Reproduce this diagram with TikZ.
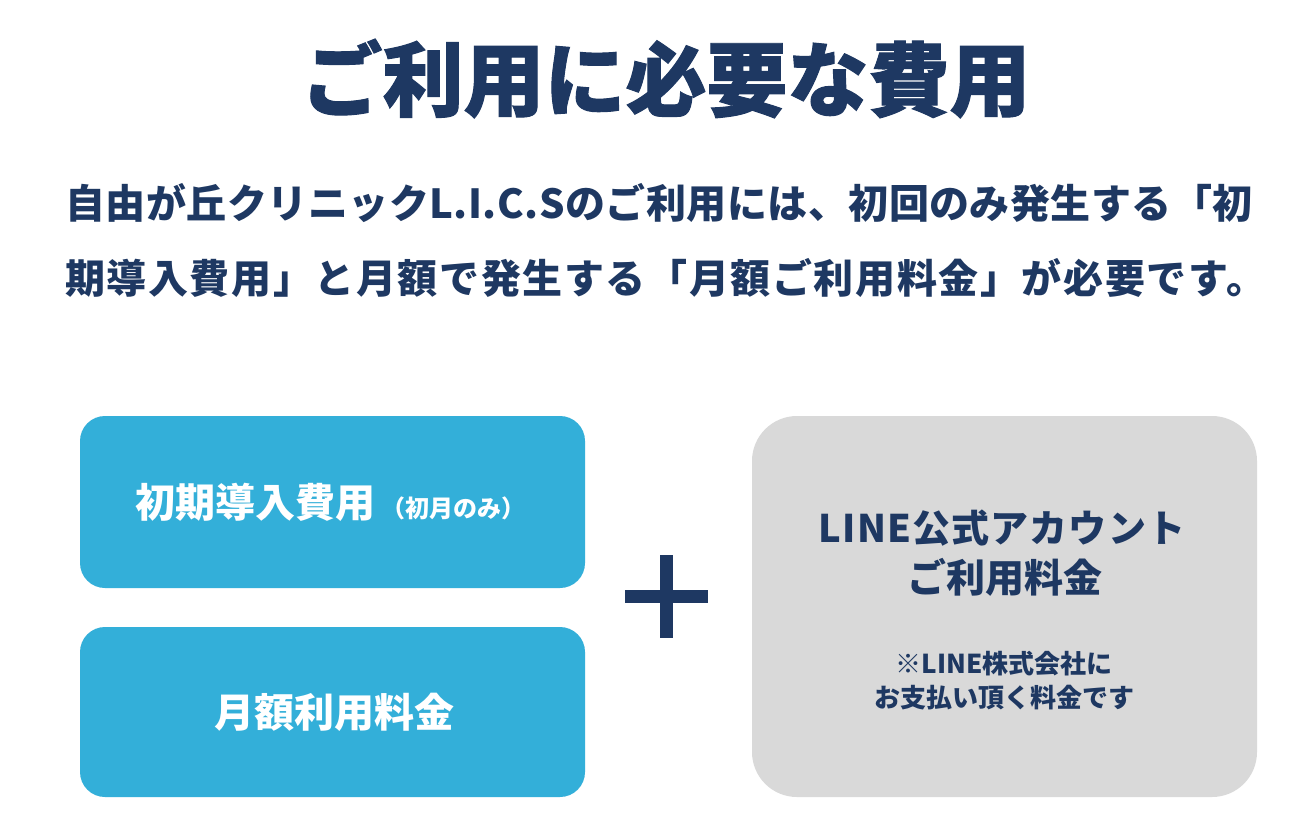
\documentclass[tikz,border=0pt]{standalone}
\usepackage{fontspec}
\setmainfont{Noto Sans CJK JP}
\definecolor{navy}{HTML}{1E3862}
\definecolor{skyblue}{HTML}{33AFD9}
\definecolor{lightgray}{HTML}{D9D9D9}
\tikzset{
  bluebox/.style={fill=skyblue, draw=none, rounded corners=25pt, minimum width=505pt, minimum height=172pt, inner sep=0pt},
  graybox/.style={fill=lightgray, draw=none, rounded corners=45pt, minimum width=505pt, minimum height=381pt, inner sep=0pt},
  txt/.style={inner sep=0pt, anchor=base, font=\bfseries},
}
\begin{document}
\begin{tikzpicture}[x=1pt,y=-1pt]
\useasboundingbox[fill=white] (0,0) rectangle (1301,839);
% title
\node[txt, text=navy, font=\bfseries\fontsize{81}{81}\selectfont\addfontfeature{FakeBold=1.2}] (title) at (666,110) {ご利用に必要な費用};
% subtitle
\node[txt, anchor=base west, text=navy, font=\bfseries\fontsize{40}{40}\selectfont\addfontfeature{LetterSpace=1.2}] (sub1) at (65,218) {自由が丘クリニックL.I.C.Sのご利用には、初回のみ発生する「初};
\node[txt, anchor=base west, text=navy, font=\bfseries\fontsize{40}{40}\selectfont\addfontfeature{LetterSpace=4}] (sub2) at (65,293) {期導入費用」と月額で発生する「月額ご利用料金」が必要です。};
% boxes
\node[bluebox] (initial) at (332.5,502) {};
\node[bluebox, minimum height=170pt] (monthly) at (332.5,712) {};
\node[graybox] (line) at (1004.5,606.5) {};
% box texts
\node[txt, anchor=base west, text=white, font=\bfseries\fontsize{40}{40}\selectfont] (t1) at (135,517) {初期導入費用\hspace{6pt}{\fontsize{24}{24}\selectfont（初月のみ）}};
\node[txt, text=white, font=\bfseries\fontsize{40}{40}\selectfont] (t2) at (334,727) {月額利用料金};
\node[txt, text=navy, font=\bfseries\fontsize{38}{38}\selectfont\addfontfeature{LetterSpace=3}] (g1) at (1002,542) {LINE公式アカウント};
\node[txt, text=navy, font=\bfseries\fontsize{39}{39}\selectfont] (g2) at (1005,592) {ご利用料金};
\node[txt, text=navy, font=\bfseries\fontsize{26}{26}\selectfont] (n1) at (1004,673) {※LINE株式会社に};
\node[txt, text=navy, font=\bfseries\fontsize{26}{26}\selectfont] (n2) at (1004,707) {お支払い頂く料金です};
% plus
\fill[navy] (625,590) rectangle (708,603);
\fill[navy] (660,555) rectangle (673,638);
\end{tikzpicture}
\end{document}
